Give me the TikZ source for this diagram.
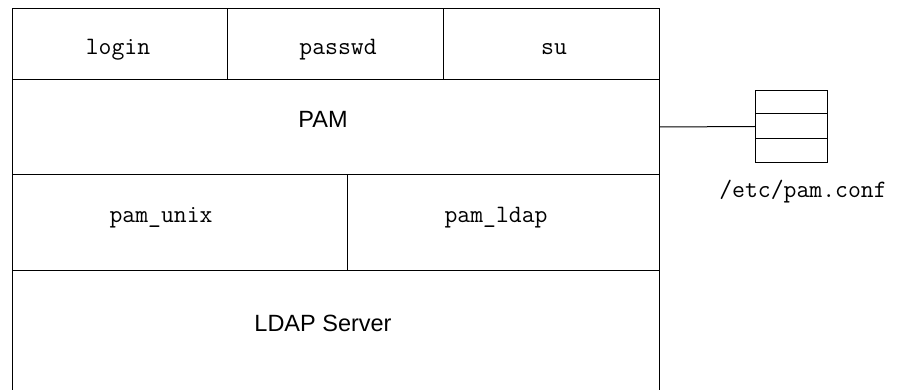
\documentclass[tikz,border=0pt]{standalone}
\usepackage{fontspec}
\setmainfont{Liberation Sans}
\begin{document}
\begin{tikzpicture}[x=1pt,y=-1pt,
  cell/.style={draw=black,line width=1pt,rectangle,inner sep=0pt,anchor=north west},
  mlab/.style={font=\ttfamily\fontsize{25}{28}\selectfont,anchor=base,inner sep=0pt},
  slab/.style={font=\fontsize{23.5}{26}\selectfont,anchor=base,inner sep=0pt},
  conn/.style={draw=black,line width=1pt}]
\useasboundingbox (0,0) rectangle (903,390);
% top row
\node[cell,minimum width=215pt,minimum height=71pt] (login) at (12,8) {};
\node[cell,minimum width=216pt,minimum height=71pt] (passwd) at (227,8) {};
\node[cell,minimum width=216pt,minimum height=71pt] (su) at (443,8) {};
% PAM
\node[cell,minimum width=647pt,minimum height=95pt] (pam) at (12,79) {};
% modules
\node[cell,minimum width=335pt,minimum height=96pt] (pamunix) at (12,174) {};
\node[cell,minimum width=312pt,minimum height=96pt] (pamldap) at (347,174) {};
% LDAP server (open at the bottom)
\coordinate (ldapnw) at (12,270);
\coordinate (ldapne) at (659,270);
\coordinate (ldapsw) at (12,392);
\coordinate (ldapse) at (659,392);
\draw[conn] (ldapnw) -- (ldapsw);
\draw[conn] (ldapne) -- (ldapse);
% labels
\node[mlab] (tlogin) at (118,55) {login};
\node[mlab] (tpasswd) at (338,55) {passwd};
\node[mlab] (tsu) at (554,55) {su};
\node[slab] (tpam) at (323,128) {PAM};
\node[mlab] (tunix) at (161,223) {pam\_unix};
\node[mlab] (tldap) at (496,223) {pam\_ldap};
\node[slab] (tserver) at (323,331) {LDAP Server};
% config file icon
\node[cell,minimum width=72pt,minimum height=72pt] (file) at (755,90) {};
\draw[conn] ([yshift=-24pt]file.north west) -- ([yshift=-24pt]file.north east);
\draw[conn] ([yshift=24pt]file.south west) -- ([yshift=24pt]file.south east);
\draw[conn] (pam.east) -- (file.west);
\node[mlab] (tconf) at (803,198) {/etc/pam.conf};
\end{tikzpicture}
\end{document}
